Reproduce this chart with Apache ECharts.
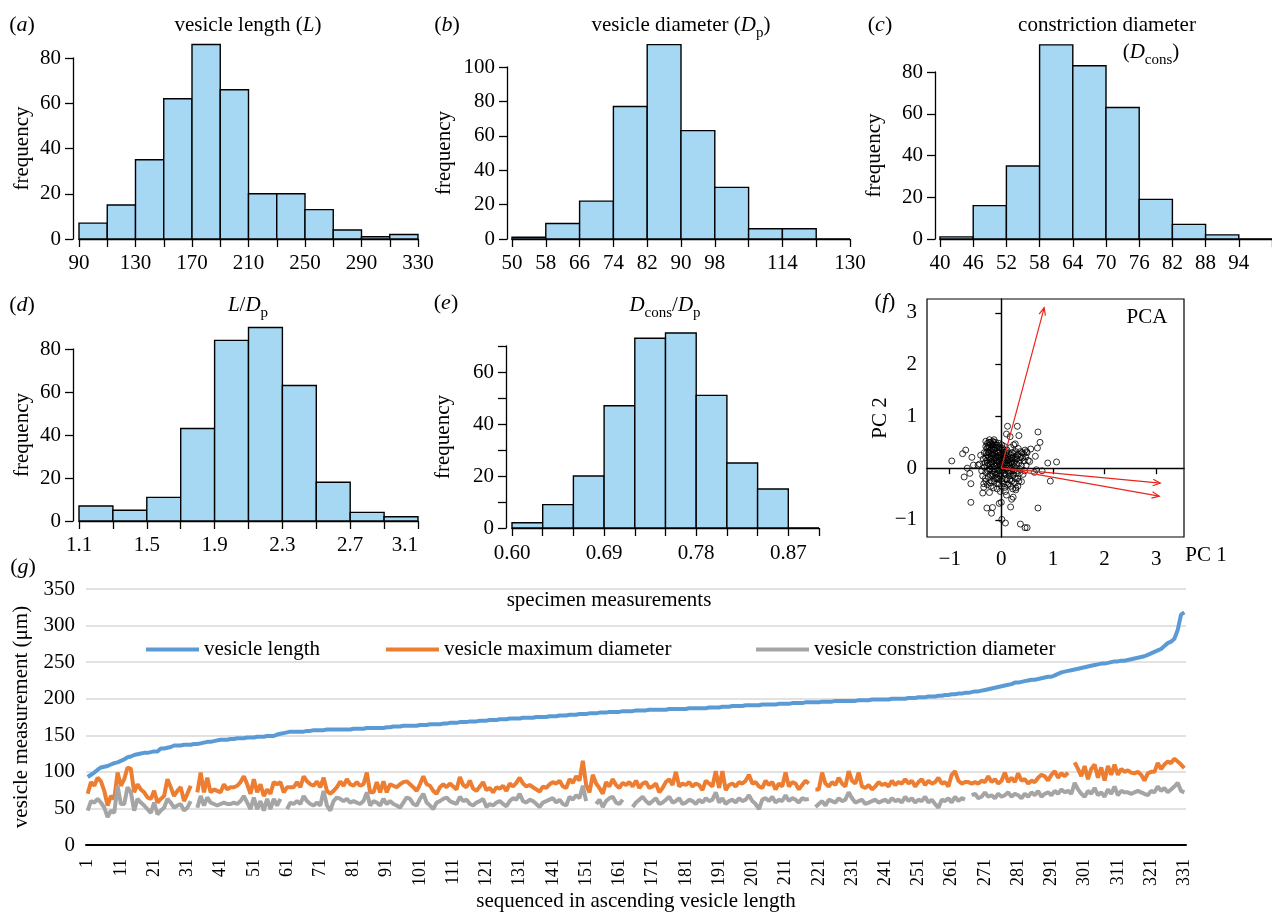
<!DOCTYPE html>
<html>
<head>
<meta charset="utf-8">
<script src="https://cdn.jsdelivr.net/npm/echarts@6/dist/echarts.min.js"></script>
<style>
html, body { margin: 0; padding: 0; background: #fff; }
#main { width: 1272px; height: 913px; }
</style>
</head>
<body>
<div id="main"></div>
<script>
// histogram bins (edges) and counts
const lengthEdges = [90, 110, 130, 150, 170, 190, 210, 230, 250, 270, 290, 310, 330];
const lengthCounts = [7, 15, 35, 62, 86, 66, 20, 20, 13, 4, 1, 2];
const lengthLabels = [90, 130, 170, 210, 250, 290, 330];

const diamEdges = [50, 58, 66, 74, 82, 90, 98, 106, 114, 122, 130];
const diamCounts = [1, 9, 22, 77, 113, 63, 30, 6, 6, 0];
const diamLabels = [50, 58, 66, 74, 82, 90, 98, 114, 130];

const consEdges = [40, 46, 52, 58, 64, 70, 76, 82, 88, 94, 100];
const consCounts = [1, 16, 35, 93, 83, 63, 19, 7, 2, 0];
const consLabels = [40, 46, 52, 58, 64, 70, 76, 82, 88, 94];

const ratioEdges = [1.1, 1.3, 1.5, 1.7, 1.9, 2.1, 2.3, 2.5, 2.7, 2.9, 3.1];
const ratioCounts = [7, 5, 11, 43, 84, 90, 63, 18, 4, 2];
const ratioLabels = [1.1, 1.5, 1.9, 2.3, 2.7, 3.1];

const consRatioEdges = [0.60, 0.63, 0.66, 0.69, 0.72, 0.75, 0.78, 0.81, 0.84, 0.87, 0.90];
const consRatioCounts = [2, 9, 20, 47, 73, 75, 51, 25, 15, 0];
const consRatioLabels = [0.60, 0.69, 0.78, 0.87];

// PCA scores and loadings
const pcaTicks = [-1, 0, 1, 2, 3];
const pcaScores = [
  [-0.96, 0.14], [-0.69, 0.35], [-0.75, 0.28], [-0.72, -0.17], [-0.66, 0], [-0.61, -0.1],
  [-0.59, -0.3], [-0.59, -0.66], [-0.57, 0.21], [-0.36, -0.48], [-0.34, -0.37], [-0.28, -0.77],
  [-0.17, -0.76], [-0.19, -0.87], [-0.23, -0.47], [0, -0.66], [0.01, -0.99], [0.08, -1.06],
  [0.12, 0.81], [0.31, 0.81], [0.1, 0.66], [0.34, 0.63], [0.71, 0.7], [0.75, 0.5], [0.7, 0.39],
  [0.57, 0.37], [0.9, 0.1], [1.07, 0.12], [0.95, -0.25], [0.71, -0.77], [0.37, -1.08],
  [0.46, -1.15], [0.5, -1.15], [0.18, -0.75], [0.2, -0.6], [0.23, -0.56], [0.28, -0.42],
  [0.39, -0.26], [0.68, -0.03], [0.79, -0.05], [0.64, -0.08], [0.66, 0.23], [0.55, 0.13],
  [0.49, 0.32], [0.27, 0.47], [0.17, 0.61], [-0.3, 0.52], [-0.23, 0.55], [-0.14, 0.55],
  [-0.45, 0.06], [-0.54, 0.06], [0.07, -0.37], [0.1, -0.52], [-0.04, -0.68],
  [-0.42, 0.08], [-0.38, -0.05], [-0.35, 0.18], [-0.33, 0.3], [-0.31, -0.2], [-0.3, 0.42],
  [-0.28, 0.05], [-0.27, -0.32], [-0.25, 0.22], [-0.24, 0.5], [-0.22, -0.12], [-0.21, 0.35],
  [-0.2, 0.12], [-0.19, -0.25], [-0.18, 0.45], [-0.17, 0.02], [-0.16, 0.28], [-0.15, -0.38],
  [-0.14, 0.15], [-0.13, -0.08], [-0.12, 0.4], [-0.11, 0.22], [-0.1, -0.18], [-0.09, 0.05],
  [-0.08, 0.32], [-0.07, -0.3], [-0.06, 0.12], [-0.05, 0.48], [-0.04, -0.05], [-0.03, 0.25],
  [-0.02, -0.15], [-0.01, 0.38], [0, 0.08], [0.01, -0.25], [0.02, 0.18], [0.03, 0.02],
  [0.04, 0.3], [0.05, -0.1], [0.06, 0.42], [0.07, 0.1], [0.08, -0.2], [0.09, 0.25], [0.1, 0],
  [0.11, 0.35], [0.12, -0.32], [0.13, 0.15], [0.14, -0.08], [0.15, 0.28], [0.16, 0.05],
  [0.17, -0.22], [0.18, 0.4], [0.19, 0.12], [0.2, -0.05], [0.21, 0.3], [0.22, -0.15],
  [0.23, 0.2], [0.24, 0.45], [0.25, 0.02], [0.26, -0.28], [0.27, 0.15], [0.28, 0.32],
  [0.29, -0.1], [0.3, 0.08], [0.31, 0.25], [0.32, -0.2], [0.33, 0.38], [0.34, 0.1],
  [0.36, -0.02], [0.38, 0.22], [0.4, 0.3], [0.42, -0.12], [0.44, 0.14], [0.46, 0.35], [0.48, 0.05],
  [-0.4, 0.25], [-0.36, -0.15], [-0.32, 0.1], [-0.29, 0.3], [-0.26, -0.05], [-0.23, 0.2],
  [-0.2, -0.35], [-0.18, 0.1], [-0.15, 0.35], [-0.13, 0.05], [-0.1, 0.2], [-0.08, -0.1],
  [-0.06, 0.3], [-0.04, 0.15], [-0.02, 0.05], [0, 0.28], [0.02, -0.05], [0.04, 0.15], [0.06, 0],
  [0.08, 0.2], [-0.12, -0.2], [-0.16, -0.12], [-0.2, 0.28], [-0.24, 0.08], [-0.28, 0.15],
  [-0.34, -0.3], [-0.26, 0.4], [-0.1, 0.45], [0, -0.35], [0.05, 0.35], [0.1, 0.15], [0.15, -0.15],
  [0.2, 0.2], [0.12, 0.05], [-0.05, -0.22], [-0.14, 0.25], [-0.22, -0.02], [0.25, 0.1], [0.3, 0.18],
  [0.35, -0.1], [0.18, -0.35], [0.22, -0.4], [-0.08, -0.4], [0.28, -0.38], [0.32, -0.35],
  [0.08, -0.45], [-0.02, -0.45],
  [-0.27, 0.48], [-0.25, 0.44], [-0.22, 0.5], [-0.2, 0.47], [-0.17, 0.52], [-0.15, 0.5],
  [-0.13, 0.46], [-0.11, 0.5], [-0.28, 0.38], [-0.26, 0.32], [-0.23, 0.4], [-0.19, 0.38],
  [-0.16, 0.42], [-0.13, 0.36], [-0.09, 0.4], [-0.07, 0.44], [-0.04, 0.4], [-0.02, 0.32],
  [0.01, 0.45], [0.03, 0.38], [-0.3, 0.2], [-0.27, 0.25], [-0.24, 0.3], [-0.21, 0.18],
  [-0.18, 0.24], [-0.15, 0.2], [-0.12, 0.28], [-0.09, 0.14], [-0.06, 0.22], [-0.03, 0.18],
  [0, 0.2], [0.03, 0.24], [0.06, 0.18], [0.09, 0.3], [0.12, 0.22], [0.15, 0.18], [0.18, 0.25],
  [0.21, 0.15], [0.24, 0.28], [0.27, 0.22], [-0.33, 0.02], [-0.3, -0.08], [-0.27, 0.1],
  [-0.24, -0.02], [-0.21, 0.06], [-0.18, -0.06], [-0.15, 0.08], [-0.12, -0.02], [-0.09, 0.1],
  [-0.06, -0.04], [-0.03, 0.08], [0, 0], [0.03, 0.1], [0.06, -0.04], [0.09, 0.06], [0.12, -0.06],
  [0.15, 0.1], [0.18, 0], [0.21, 0.08], [0.24, -0.04], [-0.3, -0.25], [-0.25, -0.18],
  [-0.22, -0.28], [-0.18, -0.15], [-0.14, -0.25], [-0.1, -0.12], [-0.07, -0.2], [-0.04, -0.3],
  [-0.01, -0.1], [0.02, -0.2], [0.05, -0.3], [0.08, -0.12], [0.11, -0.22], [0.14, -0.3],
  [0.17, -0.1], [0.2, -0.25], [0.23, -0.12], [0.27, -0.2], [0.31, -0.05], [0.34, -0.25],
  [0.36, 0.15], [0.39, 0.05], [0.41, 0.2], [0.43, 0.28], [0.45, -0.05], [0.47, 0.22],
  [0.5, 0.3], [0.52, 0.15], [0.37, 0.32], [0.33, 0.27]
];
const pcaLoadings = [[0.83, 3.1], [3.08, -0.29], [3.06, -0.54]];

// specimen measurements, sorted by vesicle length
const vesicleLength = [
  93, 96, 99, 103, 106, 107, 108, 110, 112, 113,
  115, 117, 120, 121, 123, 124, 125, 126, 126, 127,
  128, 128, 132, 132, 133, 134, 136, 136, 136, 137,
  137, 137, 138, 138, 139, 140, 141, 141, 142, 143,
  144, 144, 144, 145, 145, 146, 146, 146, 147, 147,
  147, 148, 148, 148, 149, 149, 149, 151, 152, 153,
  154, 155, 155, 155, 155, 155, 156, 156, 157, 157,
  157, 157, 158, 158, 158, 158, 158, 158, 158, 158,
  159, 159, 159, 159, 160, 160, 160, 160, 160, 160,
  161, 161, 162, 162, 162, 163, 163, 163, 163, 163,
  164, 164, 164, 165, 165, 165, 165, 166, 166, 167,
  167, 167, 168, 168, 168, 169, 169, 169, 170, 170,
  170, 171, 171, 171, 172, 172, 172, 173, 173, 173,
  173, 174, 174, 174, 174, 175, 175, 175, 175, 176,
  176, 176, 177, 177, 177, 178, 178, 178, 179, 179,
  179, 180, 180, 180, 181, 181, 181, 182, 182, 182,
  182, 183, 183, 183, 183, 184, 184, 184, 184, 185,
  185, 185, 185, 185, 185, 186, 186, 186, 186, 186,
  186, 187, 187, 187, 187, 187, 187, 188, 188, 188,
  188, 189, 189, 189, 190, 190, 190, 190, 191, 191,
  191, 191, 191, 192, 192, 192, 192, 192, 193, 193,
  193, 193, 194, 194, 194, 194, 195, 195, 195, 195,
  195, 196, 196, 196, 196, 197, 197, 197, 197, 197,
  197, 197, 198, 198, 198, 198, 199, 199, 199, 199,
  199, 199, 200, 200, 200, 200, 200, 201, 201, 201,
  202, 202, 202, 203, 203, 203, 204, 204, 205, 205,
  206, 206, 207, 207, 208, 208, 209, 210, 210, 211,
  212, 213, 214, 215, 216, 217, 218, 219, 220, 222,
  222, 223, 224, 225, 226, 226, 227, 228, 229, 230,
  230, 232, 234, 236, 237, 238, 239, 240, 241, 242,
  243, 244, 245, 246, 247, 248, 248, 249, 250, 251,
  251, 252, 252, 253, 254, 255, 256, 257, 258, 260,
  262, 264, 266, 268, 272, 276, 278, 282, 294, 315, 318
];
const vesicleMaxDiameter = [
  70, 86, 81, 92, 87, 74, 54, 67, 63, 99,
  81, 90, 106, 104, 72, 83, 76, 72, 65, 63,
  74, 58, 63, 67, 90, 79, 67, 74, 79, 60,
  70, 81, null, 72, 99, 72, 92, 72, 76, 74,
  72, 83, 76, 79, 79, 81, 86, 94, 83, 70,
  90, 72, 83, 67, 76, 70, 86, 83, 86, 72,
  79, 79, 79, 86, 79, 94, 87, 83, 81, 87,
  79, 92, 74, 70, 74, 79, 87, 81, 90, 83,
  81, 86, 81, 83, 99, 72, 72, 86, 72, 87,
  72, 83, 81, 79, 83, 86, 87, 83, 79, 74,
  83, 94, 83, 81, 74, 70, 79, 83, 79, 84,
  80, 76, 93, 82, 79, 88, 77, 74, 80, 86,
  75, 78, 72, 79, 77, 81, 74, 84, 80, 85,
  92, 84, 80, 82, 79, 76, 73, 80, 78, 83,
  86, 84, 88, 80, 78, 90, 85, 94, 88, 115,
  82, 72, 96, 84, 78, 70, 86, 80, 90, 82,
  78, 85, 82, 86, 80, 88, 78, 84, 86, 78,
  80, 84, 72, 78, 86, 90, 82, 100, 80, 84,
  82, 86, 80, 84, 82, 75, 88, 84, 80, 101,
  78, 101, 75, 82, 84, 80, 86, 84, 88, 96,
  84, 86, 80, 78, 88, 82, 86, 76, 84, 80,
  99, 80, 86, 84, 76, 82, 88, 84, null, 76,
  76, 99, 84, 80, 86, 82, 92, 84, 80, 101,
  88, 84, 99, 80, 78, 82, 76, 80, 86, 82,
  84, 80, 88, 82, 86, 84, 90, 84, 88, 80,
  86, 90, 82, 88, 84, 86, 92, 84, 86, 80,
  96, 101, 88, 84, 86, 86, 84, 86, 84, 88,
  86, 94, 86, 90, 84, 88, 99, 86, 92, 86,
  98, 88, 90, 84, 88, 86, 92, 96, 94, 88,
  96, 101, 92, 98, 94, 99, null, 113, 104, 94,
  108, 90, 104, 110, 92, 106, 88, 108, 96, 110,
  96, 104, 100, 102, 99, 98, 100, 96, 88, 98,
  100, 100, 112, 104, 110, 114, 112, 118, 114, 110, 105
];
const vesicleConsDiameter = [
  47, 60, 58, 63, 58, 51, 38, 47, 44, 81,
  56, 56, 79, 72, 47, 63, 58, 54, 49, 44,
  58, 42, 47, 51, 63, 58, 51, 54, 56, 47,
  51, 60, null, 51, 67, 54, 65, 58, 56, 54,
  56, 58, 56, 56, 58, 56, 60, 67, 58, 49,
  65, 49, 60, 47, 63, 49, 63, 54, 63, null,
  49, 58, 56, 60, 56, 67, 60, 56, 54, 58,
  54, 74, 54, 47, 60, 65, 63, 60, 63, 58,
  60, 58, 56, 60, 72, 54, 60, 58, 54, 63,
  56, 60, 56, 54, 51, 58, 65, 63, 56, 54,
  63, 70, 58, 54, 49, 58, 60, 63, 65, 60,
  58, 56, 66, 60, 62, 56, 54, 58, 60, 63,
  52, 56, 54, 58, 60, 56, 53, 60, 64, 62,
  70, 60, 58, 62, 60, 56, 52, 58, 60, 62,
  64, 58, 62, 56, 54, 66, 62, 68, 64, 81,
  60, null, null, 56, 62, 52, 60, 64, 66, 58,
  56, 62, null, null, 52, 58, 62, 66, 60, 56,
  60, 64, 56, 58, 62, 66, 58, 60, 64, 56,
  58, 62, 60, 56, 62, 58, 64, 60, 62, 72,
  58, 64, 56, 60, 62, 58, 64, 60, 62, 68,
  60, 56, 49, 62, 64, 60, 66, 58, 62, 60,
  68, 60, 64, 62, 58, 64, 62, 63, null, 52,
  56, 60, 54, 62, 60, 58, 64, 60, 62, 72,
  64, 58, 60, 62, 56, 58, 60, 62, 58, 60,
  62, 58, 64, 60, 62, 58, 66, 60, 64, 58,
  62, 60, 66, 58, 62, 56, 51, 62, 60, 64,
  58, 66, 60, 64, 62, null, 68, 70, 64, 66,
  72, 66, 68, 64, 70, 66, 68, 72, 66, 70,
  68, 64, 70, 66, 72, 68, 74, 66, 70, 72,
  68, 74, 70, 76, 72, 74, 70, 85, 76, 70,
  66, 74, 70, 78, 68, 72, 66, 76, 70, 80,
  68, 74, 72, 72, 70, 72, 74, 72, 70, 68,
  74, 72, 80, 74, 78, 72, 76, 80, 85, 74, 72
];
const specimenIds = vesicleLength.map((v, i) => String(i + 1));
const measureTicks = [0, 50, 100, 150, 200, 250, 300, 350];

const FONT = 'Liberation Serif';
const BAR = '#a6d8f4';
const RED = '#e8261c';
const txt = { color: '#000', fontFamily: FONT, fontSize: 21 };
const blackLine = { color: '#000', width: 1.3 };

function renderBar(params, api) {
    const a = api.coord([api.value(0), api.value(2)]);
    const b = api.coord([api.value(1), 0]);
    return {
        type: 'rect',
        shape: { x: a[0], y: a[1], width: b[0] - a[0], height: b[1] - a[1] },
        style: { fill: BAR, stroke: '#000', lineWidth: 1.4 }
    };
}

function renderArrow(params, api) {
    const o = api.coord([0, 0]);
    const t = api.coord([api.value(0), api.value(1)]);
    const ang = Math.atan2(t[1] - o[1], t[0] - o[0]);
    const h = 8, w = 0.42;
    const p1 = [t[0] - h * Math.cos(ang - w), t[1] - h * Math.sin(ang - w)];
    const p2 = [t[0] - h * Math.cos(ang + w), t[1] - h * Math.sin(ang + w)];
    const st = { stroke: RED, lineWidth: 1.2, fill: null };
    return {
        type: 'group',
        children: [
            { type: 'line', shape: { x1: o[0], y1: o[1], x2: t[0], y2: t[1] }, style: st },
            { type: 'polyline', shape: { points: [p1, t, p2] }, style: st }
        ]
    };
}

const grids = [], xAxes = [], yAxes = [], series = [];

function addHist(box, edges, counts, xLabels, yMax, yStep, yLabels, fmt, xOff, yOff, nameGap, alignMax) {
    const idx = grids.length;
    grids.push(box);
    xAxes.push({
        gridIndex: idx, type: 'value', min: edges[0], max: edges[edges.length - 1],
        offset: xOff,
        axisLine: { lineStyle: blackLine },
        axisTick: { length: 8, customValues: edges, lineStyle: blackLine },
        axisLabel: Object.assign({ customValues: xLabels, margin: 11, formatter: fmt, alignMaxLabel: alignMax || null }, txt),
        splitLine: { show: false }
    });
    yAxes.push({
        gridIndex: idx, type: 'value', min: 0, max: yMax, interval: yStep,
        offset: yOff,
        name: 'frequency', nameLocation: 'middle', nameGap: nameGap, nameTextStyle: txt,
        axisLine: { show: true, lineStyle: blackLine },
        axisTick: { show: true, length: 8, lineStyle: blackLine },
        axisLabel: Object.assign({ margin: 12, customValues: yLabels }, txt),
        splitLine: { show: false }
    });
    series.push({
        type: 'custom', xAxisIndex: idx, yAxisIndex: idx, renderItem: renderBar, clip: false,
        encode: { x: [0, 1], y: 2 },
        data: counts.map((c, i) => [edges[i], edges[i + 1], c])
    });
}

addHist({ left: 79, right: 854, top: 58, bottom: 674 }, lengthEdges, lengthCounts, lengthLabels,
    80, 20, undefined, null, 3, 6, 40);
addHist({ left: 512, right: 422, top: 67, bottom: 674 }, diamEdges, diamCounts, diamLabels,
    100, 20, undefined, null, 3, 5, 52);
addHist({ left: 940, right: -8, top: 72, bottom: 674 }, consEdges, consCounts, consLabels,
    80, 20, undefined, null, 3, 5, 50);
addHist({ left: 79, right: 854, top: 349, bottom: 392 }, ratioEdges, ratioCounts, ratioLabels,
    80, 20, undefined, v => v.toFixed(1), 3, 6, 40, 'right');
addHist({ left: 512, right: 453, top: 346, bottom: 385 }, consRatioEdges, consRatioCounts, consRatioLabels,
    70, 10, [0, 20, 40, 60], v => v.toFixed(2), 4, 6, 52);

// (f) PCA biplot
const minus = v => (v < 0 ? '\u2212' + Math.abs(v) : String(v));
grids.push({ left: 927, right: 88, top: 299, bottom: 376, show: true, borderColor: '#000', borderWidth: 1.2 });
xAxes.push({
    gridIndex: 5, type: 'value', min: -1.44, max: 3.54,
    axisLine: { lineStyle: blackLine },
    axisTick: { length: 6, customValues: pcaTicks, lineStyle: blackLine },
    axisLabel: Object.assign({ customValues: pcaTicks, margin: 12, formatter: minus }, txt),
    splitLine: { show: false }
});
yAxes.push({
    gridIndex: 5, type: 'value', min: -1.33, max: 3.27,
    name: 'PC 2', nameLocation: 'middle', nameGap: 36, nameTextStyle: txt,
    axisLine: { show: true, lineStyle: blackLine },
    axisTick: { show: true, length: 6, customValues: pcaTicks, lineStyle: blackLine },
    axisLabel: Object.assign({ customValues: pcaTicks, margin: 10, formatter: minus }, txt),
    splitLine: { show: false }
});
series.push({
    type: 'scatter', xAxisIndex: 5, yAxisIndex: 5, data: pcaScores,
    symbol: 'circle', symbolSize: 6,
    itemStyle: { color: 'rgba(0,0,0,0)', borderColor: '#000', borderWidth: 1 },
    markLine: {
        silent: true, symbol: ['none', 'none'], label: { show: false }, animation: false,
        lineStyle: { color: '#000', width: 1.2, type: 'solid' },
        data: [{ xAxis: 0 }, { yAxis: 0 }]
    }
});
series.push({
    type: 'custom', xAxisIndex: 5, yAxisIndex: 5, renderItem: renderArrow, clip: false, z: 5,
    data: pcaLoadings
});

// (g) specimen measurements
grids.push({ left: 86, right: 86, top: 589, bottom: 67 });
xAxes.push({
    gridIndex: 6, type: 'category', data: specimenIds, boundaryGap: true,
    name: 'sequenced in ascending vesicle length', nameLocation: 'middle', nameGap: 46, nameTextStyle: txt,
    axisLine: { lineStyle: { color: '#000', width: 2 } },
    axisTick: { interval: 0, length: 7, lineStyle: { color: '#000', width: 1 } },
    axisLabel: { interval: 9, rotate: 90, margin: 14, color: '#000', fontFamily: FONT, fontSize: 18 }
});
yAxes.push({
    gridIndex: 6, type: 'value', min: 0, max: 350, interval: 50,
    name: 'vesicle measurement (\u03bcm)', nameLocation: 'middle', nameGap: 54, nameTextStyle: txt,
    axisLine: { show: false }, axisTick: { show: false },
    axisLabel: Object.assign({ margin: 11, customValues: measureTicks }, txt),
    splitLine: { lineStyle: { color: '#d9d9d9', width: 1.5 } }
});
const lineSeries = [
    ['vesicle length', vesicleLength, '#5b9bd5'],
    ['vesicle maximum diameter', vesicleMaxDiameter, '#ed7d31'],
    ['vesicle constriction diameter', vesicleConsDiameter, '#a5a5a5']
];
lineSeries.forEach(s => {
    series.push({
        name: s[0], type: 'line', xAxisIndex: 6, yAxisIndex: 6, data: s[1],
        showSymbol: false, symbol: 'none', connectNulls: false,
        lineStyle: { color: s[2], width: 4 }, itemStyle: { color: s[2] }
    });
});
const legendLefts = [141, 381, 751];
const legends = lineSeries.map((s, i) => ({
    data: [s[0]], left: legendLefts[i], top: 634, icon: 'rect',
    itemWidth: 53, itemHeight: 4, textStyle: txt, selectedMode: false
}));

// text labels
const rich = {
    i: { fontStyle: 'italic', fontSize: 21, fontFamily: FONT, lineHeight: 32, fill: '#000' },
    sub: { fontSize: 15, fontFamily: FONT, verticalAlign: 'bottom', lineHeight: 22, fill: '#000' },
    n: { fontSize: 21, fontFamily: FONT, lineHeight: 32, fill: '#000' },
    pi: { fontStyle: 'italic', fontSize: 22, fontFamily: FONT, lineHeight: 32, fill: '#000' },
    p: { fontSize: 22, fontFamily: FONT, lineHeight: 32, fill: '#000' }
};
function label(x, y, text) {
    return {
        type: 'text', x: x, y: y, silent: true,
        style: {
            text: text, rich: rich, fontSize: 21, fontFamily: FONT, lineHeight: 32,
            fill: '#000', align: 'center', verticalAlign: 'middle'
        }
    };
}
const texts = [
    [22, 25, '{p|(}{pi|a}{p|)}'], [447, 25, '{p|(}{pi|b}{p|)}'], [880, 25, '{p|(}{pi|c}{p|)}'],
    [22, 305, '{p|(}{pi|d}{p|)}'], [446, 303, '{p|(}{pi|e}{p|)}'], [885, 302, '{p|(}{pi|f}{p|)}'],
    [23, 567, '{p|(}{pi|g}{p|)}'],
    [248, 25, '{n|vesicle length (}{i|L}{n|)}'],
    [681, 25, '{n|vesicle diameter (}{i|D}{sub|p}{n|)}'],
    [1107, 25, '{n|constriction diameter}'],
    [1151, 52, '{n|(}{i|D}{sub|cons}{n|)}'],
    [248, 305, '{i|L}{n|/}{i|D}{sub|p}'],
    [665, 305, '{i|D}{sub|cons}{n|/}{i|D}{sub|p}'],
    [1147, 317, '{n|PCA}'],
    [1206, 555, '{n|PC 1}'],
    [609, 600, '{n|specimen measurements}']
];

const myChart = echarts.init(document.getElementById('main'), null, { renderer: 'canvas' });
const option = {
    animation: false,
    backgroundColor: '#fff',
    textStyle: { fontFamily: FONT },
    grid: grids,
    xAxis: xAxes,
    yAxis: yAxes,
    legend: legends,
    series: series,
    graphic: texts.map(t => label(t[0], t[1], t[2]))
};
myChart.setOption(option);
window.addEventListener('resize', myChart.resize);
</script>
</body>
</html>
